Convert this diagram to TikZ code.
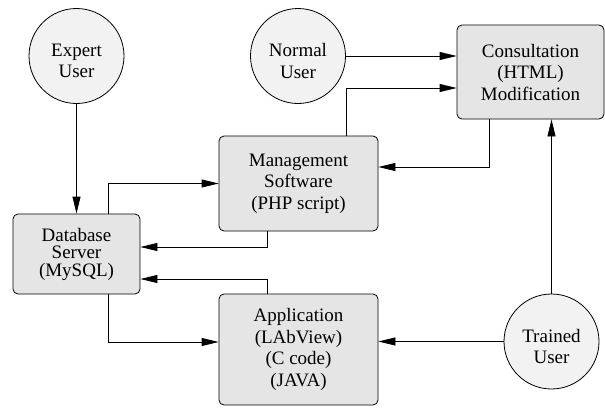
\documentclass[tikz,border=0pt]{standalone}
\usepackage{fontspec}
\setmainfont{Liberation Serif}
\usetikzlibrary{arrows.meta,positioning,calc}

\begin{document}
\begin{tikzpicture}[x=1pt, y=-1pt, >={Triangle[length=17pt,width=8pt]},
  user/.style={circle, draw, line width=0.8pt, fill=gray!10, minimum size=95pt,
    inner sep=0pt, label={[yshift=-5pt, align=center,
    font=\fontsize{19}{21.5}\selectfont]center:#1}},
  unit/.style={rectangle, rounded corners=5pt, draw, line width=0.8pt, fill=gray!20,
    inner sep=0pt, align=center, font=\fontsize{19}{21.5}\selectfont},
  link/.style={->, line width=0.8pt}]

\useasboundingbox (0,0) rectangle (605,407);

% Users
\node[user={Expert\\User}]  (expert)  at (76.5,56)     {};
\node[user={Normal\\User}]  (normal)  at (298,56)      {};
\node[user={Trained\\User}] (trained) at (551.5,341.5) {};

% Software parts
\node[unit, minimum width=147pt, minimum height=94pt] (cons) at (530.5,72)
  {Consultation\\(HTML)\\Modification};
\node[unit, minimum width=159pt, minimum height=95pt] (mgmt) at (298.5,183.5)
  {Management\\Software\\(PHP script)};
\node[unit, minimum width=127pt, minimum height=80pt,
  font=\fontsize{19}{17.5}\selectfont] (db) at (76.5,254)
  {Database\\Server\\(MySQL)};
\node[unit, minimum width=159pt, minimum height=111pt] (app) at (298.5,349.5)
  {Application\\(LAbView)\\(C code)\\(JAVA)};

% Links
\draw[link] (expert) -- (db);
\draw[link] ([xshift=31.5pt]db.north) |- (mgmt.west);
\draw[link] ([xshift=-31.5pt]mgmt.south) |- ([yshift=7pt]db.east);
\draw[link] ([xshift=-31.5pt]app.north) |- ([yshift=-25pt]db.east);
\draw[link] ([xshift=31.5pt]db.south) |- ([yshift=7.5pt]app.west);
\draw[link] (trained.west) -- (trained.west -| app.east);
\draw[link] (trained.north) -- (trained.north |- cons.south);
\draw[link] (normal.east) -- (normal.east -| cons.west);
\draw[link] ([xshift=47.5pt]mgmt.north) |- ([yshift=-16pt]cons.west);
\draw[link] ([xshift=-41.5pt]cons.south) |- ([yshift=16.5pt]mgmt.east);

\end{tikzpicture}
\end{document}
